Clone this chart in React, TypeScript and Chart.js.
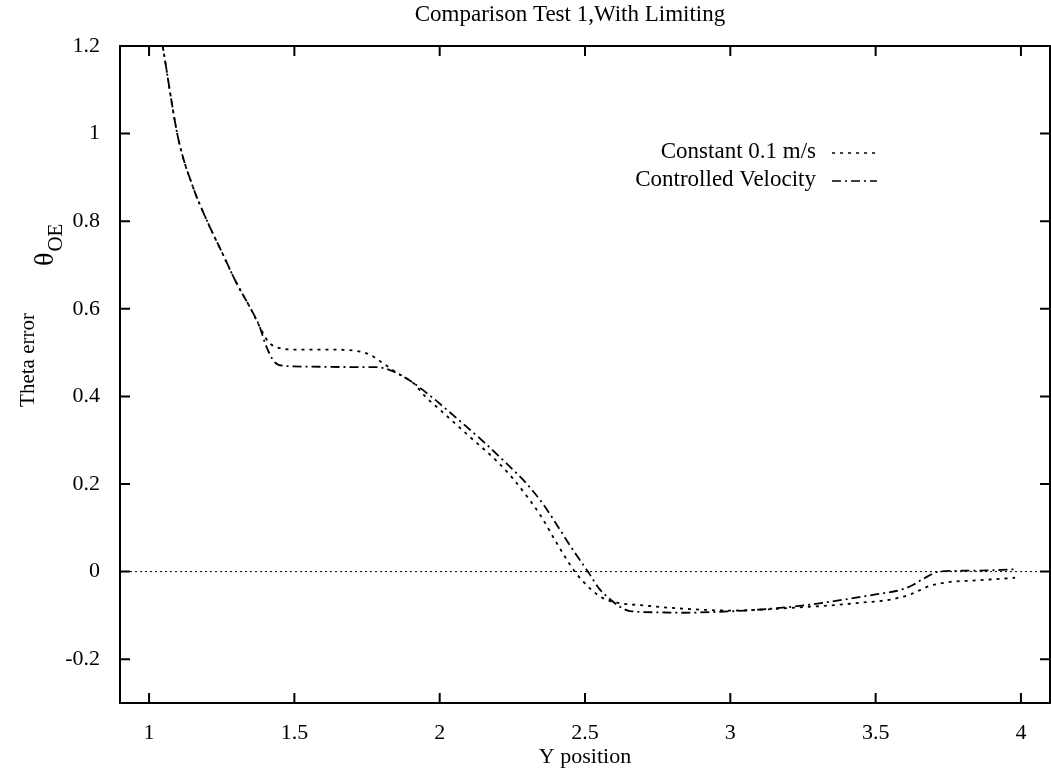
import React, { useEffect, useRef } from "react";
import { Chart, registerables } from "chart.js";

Chart.register(...registerables);

const sharedX = [1.0, 1.048, 1.1, 1.15, 1.2, 1.25, 1.3, 1.35, 1.38];
const sharedY = [1.38, 1.195, 0.99, 0.88, 0.8, 0.73, 0.66, 0.6, 0.56];

const constX = [1.41, 1.45, 1.5, 1.6, 1.7, 1.76, 1.8, 1.85, 1.91, 1.95, 2.0, 2.1, 2.2, 2.25, 2.3, 2.35, 2.4, 2.465, 2.52, 2.56, 2.61, 2.7, 2.8, 2.9, 3.0, 3.1, 3.23, 3.35, 3.45, 3.55, 3.62, 3.685, 3.75, 3.85, 3.98];
const constY = [0.525, 0.51, 0.507, 0.507, 0.505, 0.495, 0.478, 0.455, 0.43, 0.4, 0.37, 0.31, 0.25, 0.214, 0.172, 0.125, 0.068, 0.0, -0.04, -0.06, -0.071, -0.077, -0.083, -0.087, -0.089, -0.087, -0.082, -0.077, -0.071, -0.064, -0.052, -0.033, -0.024, -0.02, -0.014];

const ctrlX = [1.4, 1.43, 1.46, 1.55, 1.7, 1.78, 1.84, 1.9, 1.97, 2.05, 2.15, 2.2, 2.25, 2.3, 2.355, 2.4, 2.45, 2.51, 2.55, 2.574, 2.62, 2.654, 2.75, 2.84, 2.95, 3.05, 3.15, 3.23, 3.32, 3.41, 3.5, 3.59, 3.63, 3.66, 3.72, 3.81, 3.9, 3.978, 3.985];
const ctrlY = [0.52, 0.48, 0.47, 0.468, 0.467, 0.467, 0.457, 0.435, 0.4, 0.355, 0.297, 0.266, 0.234, 0.2, 0.155, 0.11, 0.058, 0.0, -0.04, -0.056, -0.08, -0.09, -0.093, -0.094, -0.092, -0.089, -0.084, -0.079, -0.071, -0.062, -0.052, -0.041, -0.03, -0.018, 0.0, 0.002, 0.003, 0.005, 0.0];

const xTicks = [1, 1.5, 2, 2.5, 3, 3.5, 4];
const yTicks = [-0.2, 0, 0.2, 0.4, 0.6, 0.8, 1, 1.2];
const xRange = [0.9, 4.1];
const yRange = [-0.3, 1.2];

const seriesNames = ["Constant 0.1 m/s", "Controlled Velocity"];
const titleText = "Comparison Test 1,With Limiting";
const xTitle = "Y position";
const yTitle = "Theta error";

const FONT = "'Liberation Serif', 'DejaVu Serif', serif";
const DASH_CONST = [3, 5];
const DASH_CTRL = [9, 4, 2, 4];

function pts(xs: number[], ys: number[]) {
  return xs.map((x, i) => ({ x, y: ys[i] }));
}

const decorPlugin = {
  id: "decor",
  afterDraw(chart: any) {
    const ctx = chart.ctx as CanvasRenderingContext2D;
    const a = chart.chartArea;
    const xs = chart.scales.x;
    const ys = chart.scales.y;
    ctx.save();
    ctx.strokeStyle = "#000";
    ctx.lineWidth = 2;
    ctx.setLineDash([]);
    ctx.strokeRect(a.left, a.top, a.right - a.left, a.bottom - a.top);
    const tl = 10;
    ctx.beginPath();
    xTicks.forEach((v) => {
      const px = xs.getPixelForValue(v);
      ctx.moveTo(px, a.bottom);
      ctx.lineTo(px, a.bottom - tl);
      ctx.moveTo(px, a.top);
      ctx.lineTo(px, a.top + tl);
    });
    yTicks.forEach((v) => {
      const py = ys.getPixelForValue(v);
      ctx.moveTo(a.left, py);
      ctx.lineTo(a.left + tl, py);
      ctx.moveTo(a.right, py);
      ctx.lineTo(a.right - tl, py);
    });
    ctx.stroke();

    ctx.fillStyle = "#000";
    ctx.textAlign = "center";
    ctx.textBaseline = "middle";
    ctx.font = `23px ${FONT}`;
    ctx.fillText(titleText, 570, 15);
    ctx.font = `22px ${FONT}`;
    ctx.fillText(xTitle, 585, 757);

    ctx.save();
    ctx.translate(28, 360);
    ctx.rotate(-Math.PI / 2);
    ctx.font = `21px ${FONT}`;
    ctx.fillText(yTitle, 0, 0);
    ctx.restore();

    ctx.save();
    ctx.translate(53, 266);
    ctx.rotate(-Math.PI / 2);
    ctx.textAlign = "left";
    ctx.textBaseline = "alphabetic";
    ctx.font = `28px ${FONT}`;
    ctx.fillText("θ", 0, 0);
    const w = ctx.measureText("θ").width;
    ctx.font = `21px ${FONT}`;
    ctx.fillText("OE", w + 1, 9);
    ctx.restore();

    // legend
    ctx.font = `23px ${FONT}`;
    ctx.textAlign = "right";
    const rows = [152, 180];
    const dashes = [DASH_CONST, DASH_CTRL];
    seriesNames.forEach((name, i) => {
      ctx.fillText(name, 816, rows[i]);
      ctx.beginPath();
      ctx.setLineDash(dashes[i]);
      ctx.lineWidth = 1.6;
      ctx.moveTo(832, rows[i] + 1);
      ctx.lineTo(877, rows[i] + 1);
      ctx.stroke();
    });
    ctx.restore();
  },
};

export default function App() {
  const ref = useRef<HTMLCanvasElement>(null);
  useEffect(() => {
    const canvas = ref.current!;
    const chart = new Chart(canvas, {
      type: "line",
      data: {
        datasets: [
          {
            label: "zero",
            data: [
              { x: xRange[0], y: 0 },
              { x: xRange[1], y: 0 },
            ],
            borderColor: "#000",
            borderWidth: 1,
            borderDash: [2, 3],
            pointRadius: 0,
          },
          {
            label: seriesNames[0],
            data: pts(sharedX.concat(constX), sharedY.concat(constY)),
            borderColor: "#000",
            borderWidth: 1.8,
            borderDash: DASH_CONST,
            pointRadius: 0,
            cubicInterpolationMode: "monotone",
          },
          {
            label: seriesNames[1],
            data: pts(sharedX.concat(ctrlX), sharedY.concat(ctrlY)),
            borderColor: "#000",
            borderWidth: 1.8,
            borderDash: DASH_CTRL,
            pointRadius: 0,
            cubicInterpolationMode: "monotone",
          },
        ],
      },
      options: {
        animation: false,
        responsive: false,
        maintainAspectRatio: false,
        layout: { padding: { top: 46, right: 1, left: 0, bottom: 0 } },
        plugins: { legend: { display: false }, title: { display: false }, tooltip: { enabled: false } },
        scales: {
          x: {
            type: "linear",
            min: xRange[0],
            max: xRange[1],
            grid: { display: false },
            border: { display: false },
            afterBuildTicks: (s: any) => {
              s.ticks = xTicks.map((v) => ({ value: v }));
            },
            afterFit: (s: any) => {
              s.height = 70;
            },
            ticks: {
              color: "#000",
              font: { family: FONT, size: 22 },
              padding: 9,
              maxRotation: 0,
              callback: (v: any) => String(Math.round(Number(v) * 10) / 10),
            },
          },
          y: {
            type: "linear",
            min: yRange[0],
            max: yRange[1],
            grid: { display: false },
            border: { display: false },
            afterBuildTicks: (s: any) => {
              s.ticks = yTicks.map((v) => ({ value: v }));
            },
            afterFit: (s: any) => {
              s.width = 120;
            },
            ticks: {
              color: "#000",
              font: { family: FONT, size: 22 },
              padding: 12,
              callback: (v: any) => String(Math.round(Number(v) * 10) / 10),
            },
          },
        },
      },
      plugins: [decorPlugin],
    } as any);
    return () => chart.destroy();
  }, []);
  return (
    <div style={{ position: "fixed", left: 0, top: 0, width: 1051, height: 773, background: "#fff" }}>
      <canvas ref={ref} width={1051} height={773} style={{ width: 1051, height: 773, display: "block" }} />
    </div>
  );
}
